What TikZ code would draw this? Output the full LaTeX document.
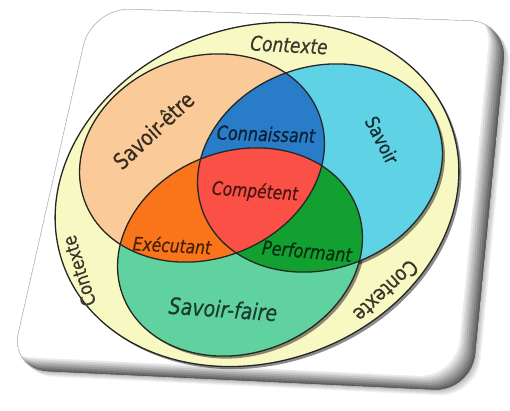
\documentclass[tikz,border=0pt]{standalone}
\usepackage{fontspec}
\setmainfont{DejaVu Sans}[FakeBold=0.5]
\usepackage{graphicx}
\usepackage{xcolor}
\usepackage{tikz}

\definecolor{ctxyellow}{RGB}{248,248,194}
\definecolor{etrepeach}{RGB}{250,202,152}
\definecolor{savoircyan}{RGB}{96,210,230}
\definecolor{fairegreen}{RGB}{96,210,160}
\definecolor{connblue}{RGB}{40,124,200}
\definecolor{compred}{RGB}{250,80,70}
\definecolor{execorange}{RGB}{250,116,26}
\definecolor{perfgreen}{RGB}{18,160,48}

\newcommand{\shpCard}{(300,395) -- (508,388) -- (472,18) -- (10,40) -- (92,402) -- cycle}
\newcommand{\shpCtx}{(257,215.5) ellipse [x radius=206, y radius=167, rotate=20]}
\newcommand{\shpEtre}{(202,252) ellipse [x radius=125, y radius=101, rotate=20]}
\newcommand{\shpSavoir}{(320,242) ellipse [x radius=125, y radius=101, rotate=20]}
\newcommand{\shpFaire}{(240,158) ellipse [x radius=125, y radius=101, rotate=20]}
\newcommand{\tall}[1]{\scalebox{1}[1.2]{#1}}

\begin{document}
\begin{tikzpicture}[
  x=1pt,y=1pt,
  card/.style={rounded corners=38},
  outline/.style={draw=black!85,line width=1.3pt},
  shade/.style={fill=black,opacity=0.45,shift={(2.5,-2.5)}},
  lbl/.style={inner sep=0pt},
  slant/.style={lbl,font=\itshape}
]
\useasboundingbox (0,0) rectangle (510,410);

% card with soft shadow and dark edge
\foreach \i in {1,...,5}
  \fill[card,black,opacity=0.05,shift={(\i,-\i)}] \shpCard;
\begin{scope}
  \clip[card] \shpCard;
  \fill[card,black!64] \shpCard;
  \foreach \i in {1,...,8} {
    \pgfmathtruncatemacro\lv{64-8*\i}
    \fill[card,black!\lv,shift={(-2*\i,1.8*\i)}] \shpCard;
  }
\end{scope}
\draw[card,black!25,line width=0.6pt] \shpCard;

% context
\fill[shade] \shpCtx;
\fill[ctxyellow] \shpCtx;

% the three sets
\fill[shade] \shpEtre;
\fill[shade] \shpSavoir;
\fill[shade] \shpFaire;
\fill[etrepeach] \shpEtre;
\fill[savoircyan] \shpSavoir;
\fill[fairegreen] \shpFaire;

% overlaps
\begin{scope}
  \clip \shpEtre;
  \fill[connblue] \shpSavoir;
\end{scope}
\begin{scope}
  \clip \shpEtre;
  \fill[execorange] \shpFaire;
\end{scope}
\begin{scope}
  \clip \shpSavoir;
  \fill[perfgreen] \shpFaire;
\end{scope}
\begin{scope}
  \clip \shpEtre;
  \clip \shpSavoir;
  \fill[compred] \shpFaire;
\end{scope}

\draw[outline] \shpCtx;
\draw[outline] \shpEtre;
\draw[outline] \shpSavoir;
\draw[outline] \shpFaire;

% labels
\node[slant,text=ctxyellow!22!black,font=\itshape\fontsize{17}{17}\selectfont,rotate=-3] (ctxtop) at (289,365) {\tall{Contexte}};
\node[lbl,text=ctxyellow!22!black,font=\fontsize{16}{16}\selectfont,rotate=107] (ctxleft) at (79,139) {\tall{Contexte}};
\node[lbl,text=ctxyellow!22!black,font=\fontsize{17.5}{17.5}\selectfont,rotate=223] (ctxright) at (386,119) {\tall{Contexte}};
\node[lbl,text=etrepeach!22!black,font=\fontsize{18.5}{18.5}\selectfont,rotate=43] (etre) at (153,280) {\tall{Savoir-être}};
\node[lbl,text=savoircyan!22!black,font=\fontsize{16}{16}\selectfont,rotate=-63] (savoir) at (382,270) {\tall{Savoir}};
\node[slant,text=connblue!25!black,font=\itshape\fontsize{16}{16}\selectfont,rotate=-2] (conn) at (266,276) {\tall{Connaissant}};
\node[slant,text=compred!28!black,font=\itshape\fontsize{15.5}{15.5}\selectfont,rotate=-4] (comp) at (255,218) {\tall{Compétent}};
\node[slant,text=execorange!28!black,font=\itshape\fontsize{15.5}{15.5}\selectfont,rotate=-3] (exec) at (172,165) {\tall{Exécutant}};
\node[slant,text=perfgreen!28!black,font=\itshape\fontsize{16}{16}\selectfont,rotate=-5] (perf) at (307,159) {\tall{Performant}};
\node[slant,text=fairegreen!28!black,font=\itshape\fontsize{19}{19}\selectfont,rotate=-4] (faire) at (223,101) {\tall{Savoir-faire}};
\end{tikzpicture}
\end{document}
